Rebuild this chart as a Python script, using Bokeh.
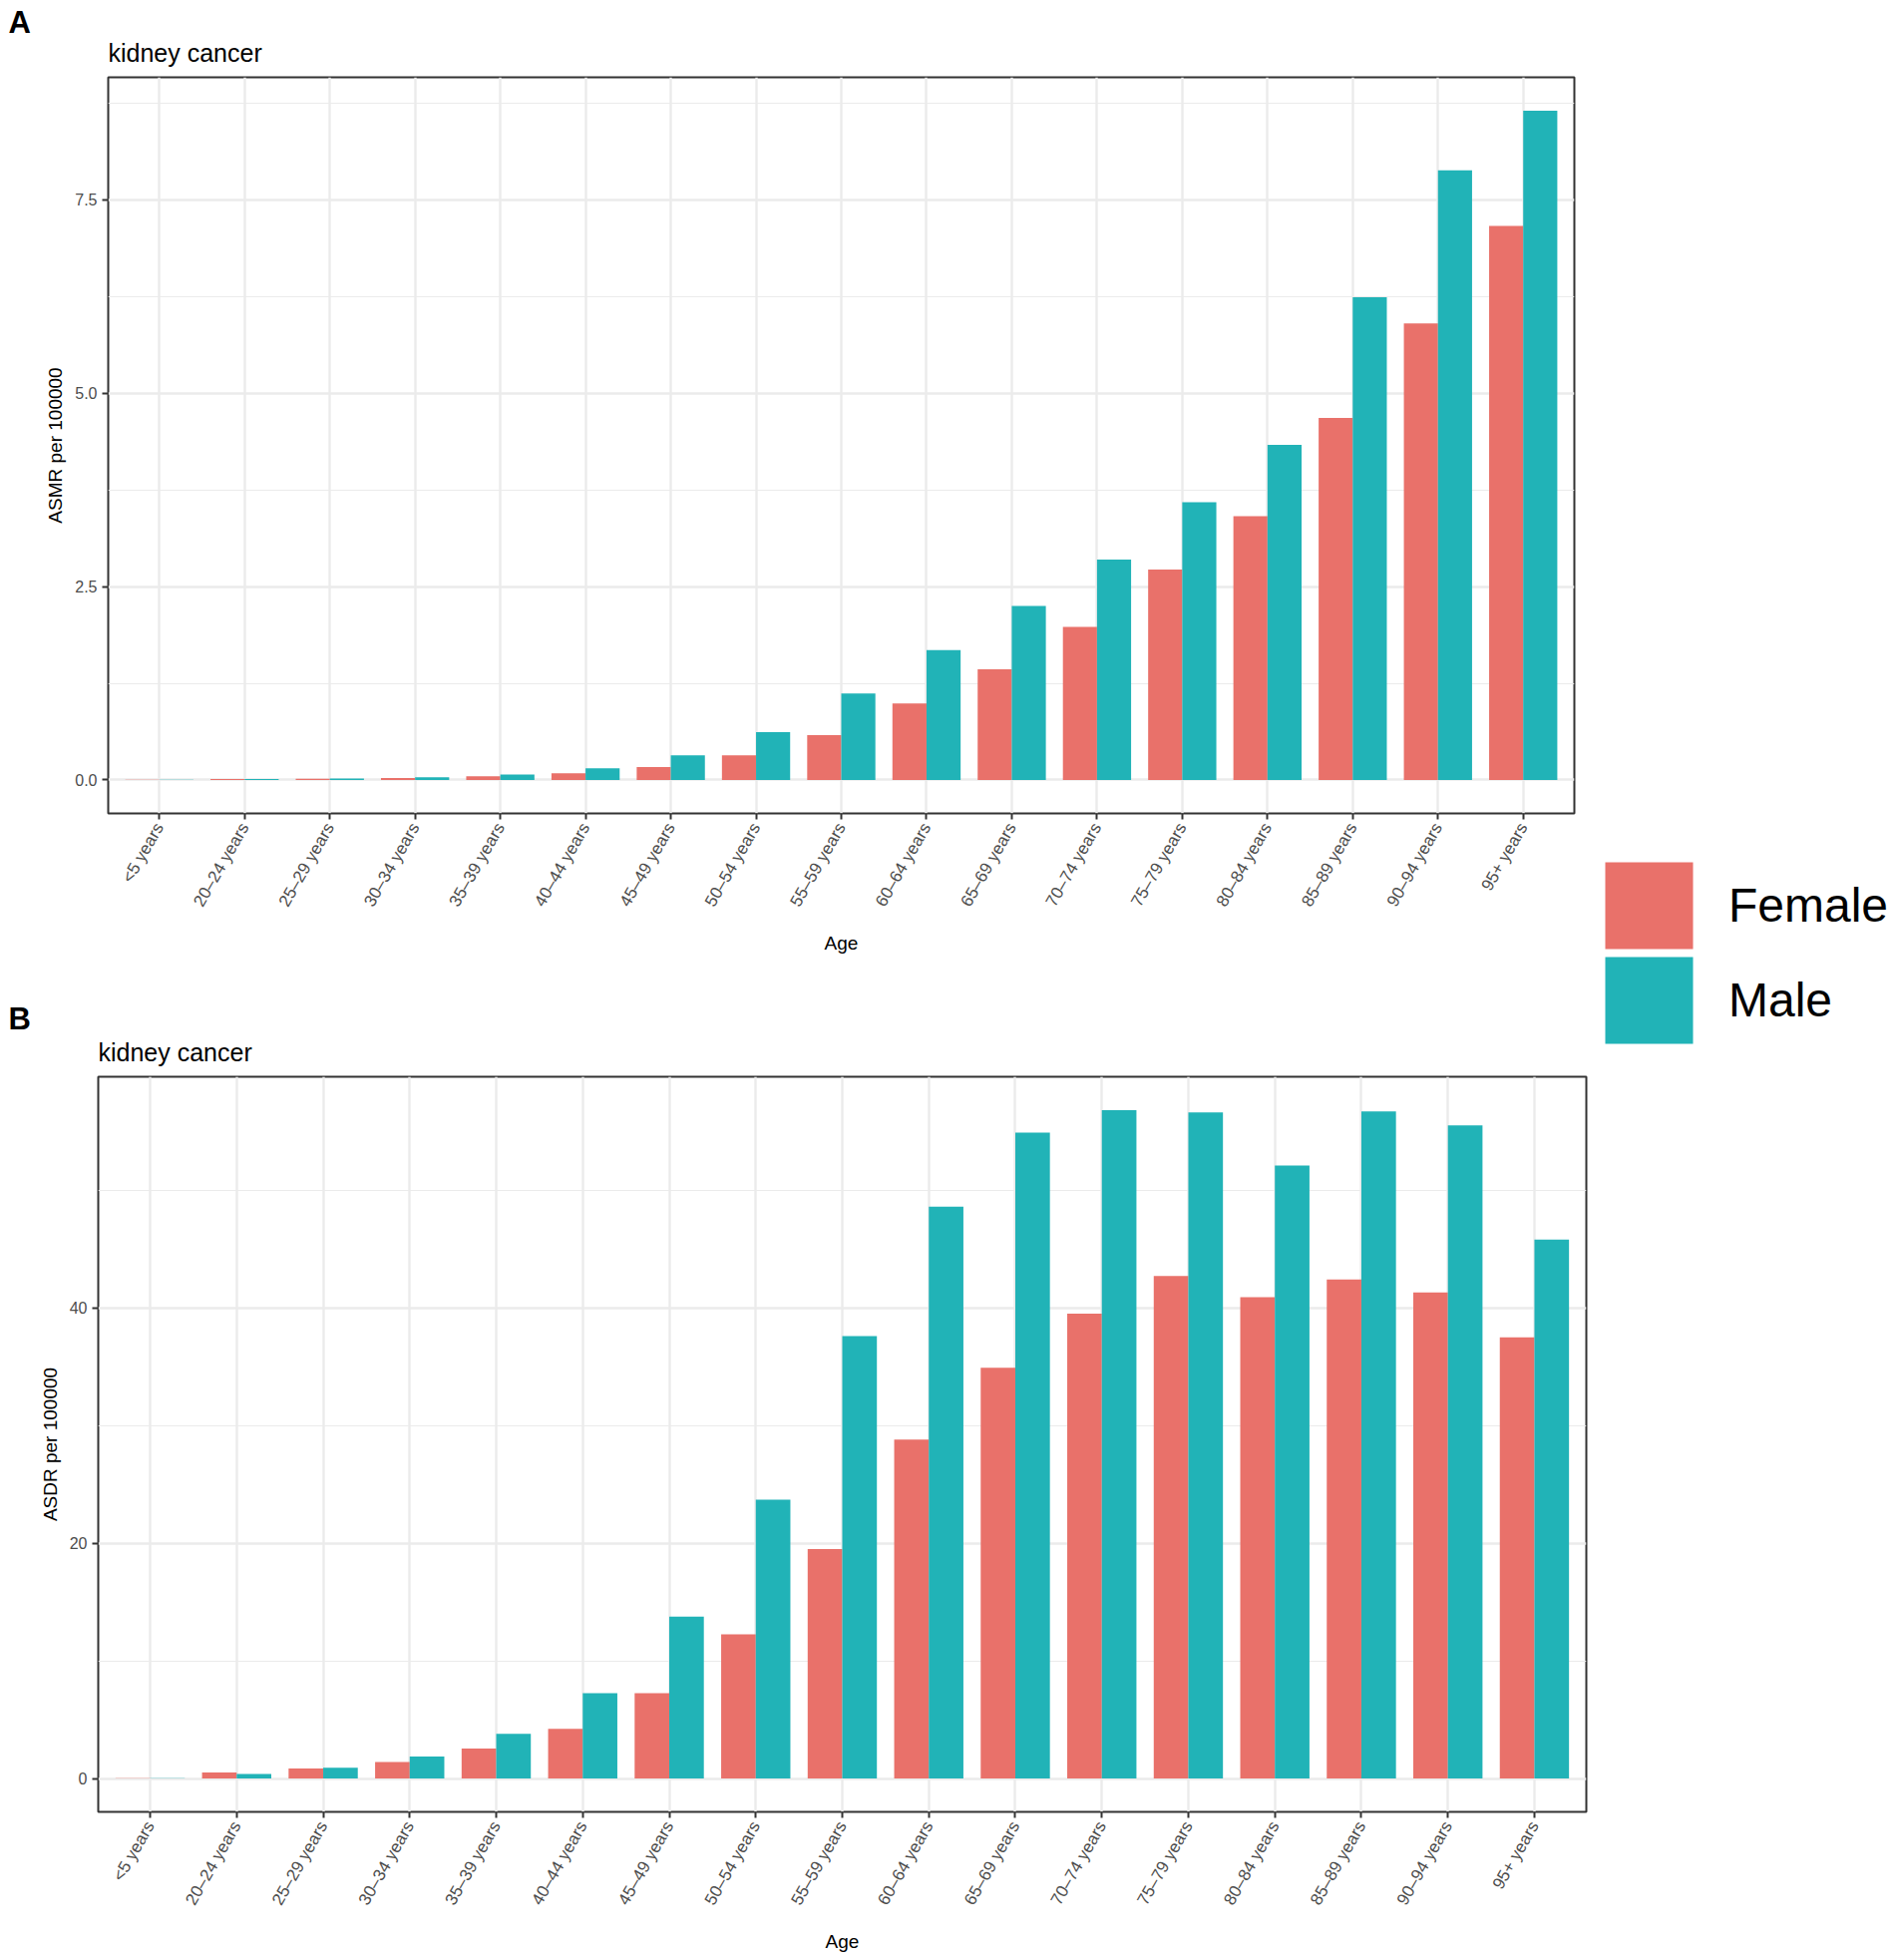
import math
from bokeh.plotting import figure
from bokeh.models import (FactorRange, Range1d, FixedTicker, PrintfTickFormatter,
                          Legend, LegendItem, ColumnDataSource, Spacer, Title)
from bokeh.layouts import column, row
from bokeh.transform import dodge
from bokeh.embed import file_html
from bokeh.resources import INLINE

# ---------------- data ----------------
ages = ["<5 years", "20\u201324 years", "25\u201329 years", "30\u201334 years", "35\u201339 years",
        "40\u201344 years", "45\u201349 years", "50\u201354 years", "55\u201359 years", "60\u201364 years",
        "65\u201369 years", "70\u201374 years", "75\u201379 years", "80\u201384 years", "85\u201389 years",
        "90\u201394 years", "95+ years"]

female_asmr = [0.002, 0.012, 0.016, 0.026, 0.047, 0.086, 0.168, 0.318, 0.58, 0.99,
               1.43, 1.98, 2.72, 3.41, 4.68, 5.90, 7.16]
male_asmr = [0.002, 0.012, 0.018, 0.034, 0.069, 0.15, 0.318, 0.619, 1.117, 1.68,
             2.25, 2.85, 3.59, 4.33, 6.24, 7.88, 8.65]

female_asdr = [0.03, 0.50, 0.84, 1.39, 2.54, 4.21, 7.24, 12.26, 19.5, 28.8,
               34.9, 39.5, 42.7, 40.9, 42.4, 41.3, 37.5]
male_asdr = [0.03, 0.39, 0.92, 1.87, 3.79, 7.24, 13.76, 23.7, 37.6, 48.6,
             54.9, 56.8, 56.6, 52.1, 56.7, 55.5, 45.8]

sexes = ["Female", "Male"]
asmr_ticks = [0, 2.5, 5.0, 7.5]
asmr_minor = [1.25, 3.75, 6.25, 8.75]
asdr_ticks = [0, 20, 40]
asdr_minor = [10, 30, 50]

# ---------------- style ----------------
FEMALE = "#E9716A"
MALE = "#21B3B7"
FONT = "Liberation Sans"
GRID = "#EBEBEB"


def panel(tag, female, male, ylabel, ticks, minor, fmt, width, height, bl, br, bt, bb,
          tag_offset, tag_standoff):
    ymax = max(max(female), max(male))
    src = ColumnDataSource(dict(age=ages, female=female, male=male))
    p = figure(x_range=FactorRange(factors=ages, range_padding=0.1,
                                   range_padding_units="absolute"),
               y_range=Range1d(-0.05 * ymax, 1.05 * ymax), title=None,
               width=width, height=height, output_backend="svg",
               toolbar_location=None, min_border_left=bl, min_border_right=br,
               min_border_top=bt, min_border_bottom=bb)
    p.vbar(x=dodge("age", -0.2, range=p.x_range), top="female", width=0.4,
           source=src, fill_color=FEMALE, line_color=None)
    p.vbar(x=dodge("age", 0.2, range=p.x_range), top="male", width=0.4,
           source=src, fill_color=MALE, line_color=None)

    p.background_fill_color = "white"
    p.border_fill_color = "white"
    p.outline_line_color = "#333333"
    p.outline_line_width = 2

    # subtitle (closest to the frame) then the panel tag above it
    p.add_layout(Title(text="kidney cancer", align="left", standoff=22, text_font=FONT,
                       text_font_size="25px", text_font_style="normal",
                       text_color="black"), "above")
    p.add_layout(Title(text=tag, align="left", offset=tag_offset, standoff=tag_standoff,
                       text_font=FONT, text_font_size="31px", text_font_style="bold",
                       text_color="black"), "above")

    p.yaxis.ticker = FixedTicker(ticks=ticks, minor_ticks=minor)
    p.yaxis.formatter = PrintfTickFormatter(format=fmt)

    for ax in (p.xaxis[0], p.yaxis[0]):
        ax.axis_line_color = None
        ax.major_tick_line_color = "#333333"
        ax.major_tick_line_width = 2
        ax.major_tick_in = 0
        ax.major_tick_out = 6
        ax.minor_tick_line_color = None
        ax.major_label_text_font = FONT
        ax.major_label_text_color = "#4D4D4D"
        ax.major_label_standoff = 5
        ax.axis_label_text_font = FONT
        ax.axis_label_text_font_size = "19px"
        ax.axis_label_text_font_style = "normal"
        ax.axis_label_text_color = "black"

    p.xaxis.axis_label = "Age"
    p.xaxis.major_label_orientation = math.radians(60)
    p.xaxis.major_label_text_font_size = "17px"
    p.xaxis.axis_label_standoff = 15
    p.yaxis.major_label_text_font_size = "16px"
    p.yaxis.axis_label = ylabel
    p.yaxis.axis_label_standoff = 6

    p.xgrid.grid_line_color = GRID
    p.xgrid.grid_line_width = 2.4
    p.ygrid.grid_line_color = GRID
    p.ygrid.grid_line_width = 2.4
    p.ygrid.minor_grid_line_color = GRID
    p.ygrid.minor_grid_line_width = 1.2
    return p


pA = panel("A", female_asmr, male_asmr, "ASMR per 100000", asmr_ticks, asmr_minor, "%.1f",
           1598, 998, 108, 20, 77, 183, -100, -28)
pB = panel("B", female_asdr, male_asdr, "ASDR per 100000", asdr_ticks, asdr_minor, "%d",
           1598, 962, 98, 8, 81, 133, -90, -22)

# ---------------- shared legend ----------------
LEG_H = 215
leg = figure(width=302, height=LEG_H, x_range=FactorRange(factors=sexes),
             y_range=Range1d(0, 1), x_axis_type=None, y_axis_type=None,
             output_backend="svg", toolbar_location=None, min_border=0)
leg.grid.visible = False
leg.outline_line_color = None
leg.background_fill_color = "white"
leg.border_fill_color = "white"
key_src = ColumnDataSource(dict(sex=sexes, top=[0, 0], color=[FEMALE, MALE]))
keys = leg.vbar(x="sex", top="top", width=0.5, source=key_src,
                fill_color="color", line_color=None)

common = dict(glyph_width=110, glyph_height=109, spacing=0, label_text_font=FONT,
              label_text_font_size="48px", label_text_color="black", label_standoff=25,
              padding=0, margin=0, border_line_color=None, background_fill_alpha=0)
leg.add_layout(Legend(items=[LegendItem(label=sexes[0], renderers=[keys], index=0)],
                      location="top_left", **common))
leg.add_layout(Legend(items=[LegendItem(label=sexes[1], renderers=[keys], index=1)],
                      location=(0, LEG_H - 95 - 109), **common))

layout = row(column(row(pA), row(pB)), column(Spacer(width=302, height=853), leg))

open("out.html", "w").write(file_html(layout, INLINE))
